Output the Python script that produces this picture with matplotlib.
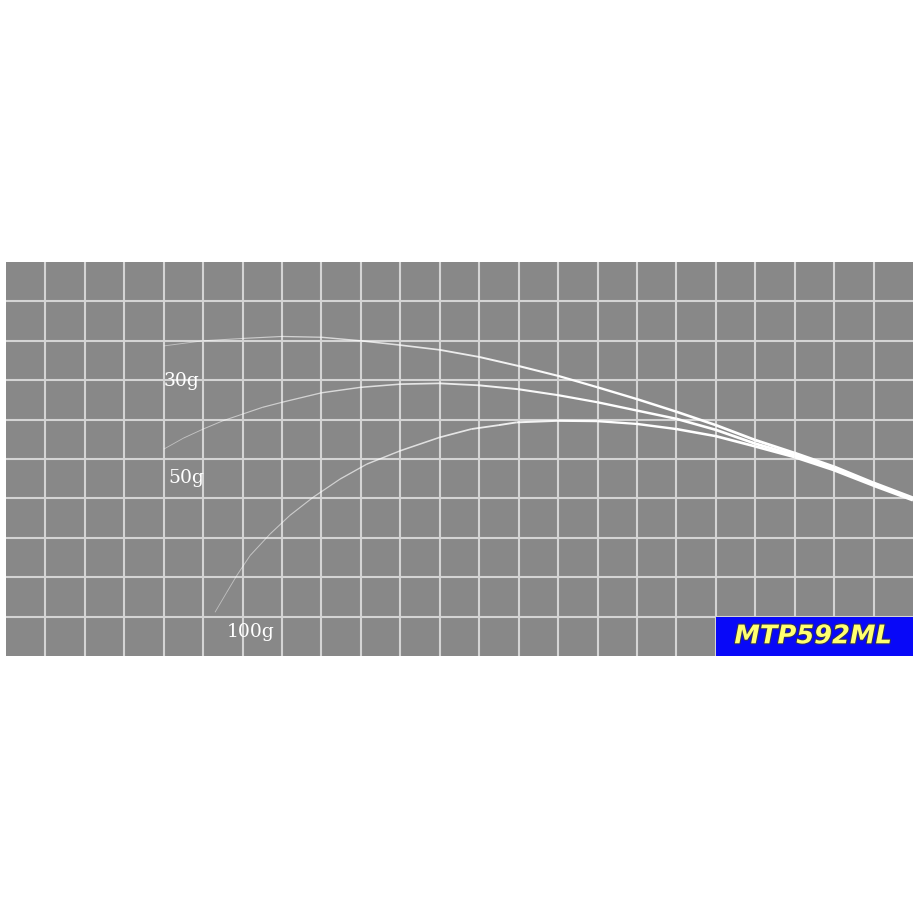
import numpy as np
import matplotlib
matplotlib.use("Agg")
import matplotlib.pyplot as plt
from matplotlib.collections import LineCollection
from matplotlib.patches import Rectangle
import matplotlib.patheffects as pe

# rod bend curves, in grid cells (x from left, y from bottom)
x_30g = [4, 5, 6, 7, 8, 9, 10, 11, 12, 13, 14, 15, 16, 17, 18, 19, 20, 21, 22, 23]
y_30g = [7.87, 8.00, 8.06, 8.11, 8.09, 8.00, 7.89, 7.77, 7.59, 7.36, 7.11, 6.82,
         6.52, 6.20, 5.86, 5.48, 5.15, 4.80, 4.39, 4.01]

x_50g = [4, 4.5, 5, 5.5, 6, 6.5, 7, 8, 9, 10, 11, 12, 13, 14, 15, 16, 17, 18, 19,
         20, 21, 22, 23]
y_50g = [5.25, 5.53, 5.76, 5.97, 6.14, 6.31, 6.44, 6.68, 6.82, 6.90, 6.92, 6.87,
         6.77, 6.62, 6.44, 6.23, 6.02, 5.74, 5.39, 5.10, 4.76, 4.37, 3.98]

x_100g = [5.3, 5.6, 5.85, 6.19, 6.7, 7.2, 7.79, 8.47, 9.15, 10, 11, 11.8, 12.5,
          12.95, 14, 15, 16, 17, 18, 19, 20, 21, 22, 23]
y_100g = [1.11, 1.62, 2.04, 2.55, 3.10, 3.57, 4.03, 4.49, 4.87, 5.21, 5.55, 5.76,
          5.86, 5.93, 5.97, 5.96, 5.89, 5.76, 5.58, 5.32, 5.05, 4.72, 4.33, 3.96]

labels = ["30g", "50g", "100g"]
label_pos = [(3.99, 7.0), (4.11, 4.54), (5.6, 0.63)]
model_name = "MTP592ML"

n_cols, n_rows = 23, 10

fig = plt.figure(figsize=(9.2, 9.2), dpi=100)
fig.patch.set_facecolor("white")
ax = fig.add_axes([6 / 920, 263 / 920, 907 / 920, 394 / 920])
ax.set_facecolor("#888888")
ax.set_xlim(0, n_cols)
ax.set_ylim(0, n_rows)
ax.set_xticks(range(1, n_cols))
ax.set_yticks(range(1, n_rows))
ax.grid(True, color="#d4d4d4", linewidth=1.5)
ax.tick_params(length=0, labelbottom=False, labelleft=False)
for s in ax.spines.values():
    s.set_visible(False)


def bend_line(xs, ys):
    # thin and faint at the butt end, thicker towards the tip
    xs = np.asarray(xs, dtype=float)
    pts = np.column_stack([xs, ys])
    segs = np.stack([pts[:-1], pts[1:]], axis=1)
    t = ((xs[:-1] + xs[1:]) / 2 - xs[0]) / (xs[-1] - xs[0])
    widths = 0.6 + 1.8 * t
    colors = [(1, 1, 1, 0.45 + 0.55 * min(1, k * 1.8)) for k in t]
    lc = LineCollection(segs, linewidths=widths, colors=colors,
                        capstyle="butt", joinstyle="round", zorder=3)
    ax.add_collection(lc)


bend_line(x_30g, y_30g)
bend_line(x_50g, y_50g)
bend_line(x_100g, y_100g)

for lab, (lx, ly) in zip(labels, label_pos):
    ax.text(lx, ly, lab, color="white", fontsize=13.5, family="DejaVu Serif",
            ha="left", va="center", zorder=4)

ax.add_patch(Rectangle((18, 0), 5, 1, facecolor="#0808f8", edgecolor="none", zorder=5))
ax.text(20.47, 0.5, model_name, color="#ffff70", fontsize=18.5, fontweight="bold",
        fontstyle="italic", family="DejaVu Sans", ha="center", va="center", zorder=6,
        path_effects=[pe.withStroke(linewidth=1.5, foreground="#30305a")])

fig.savefig("out.png", dpi=100, facecolor="white")
